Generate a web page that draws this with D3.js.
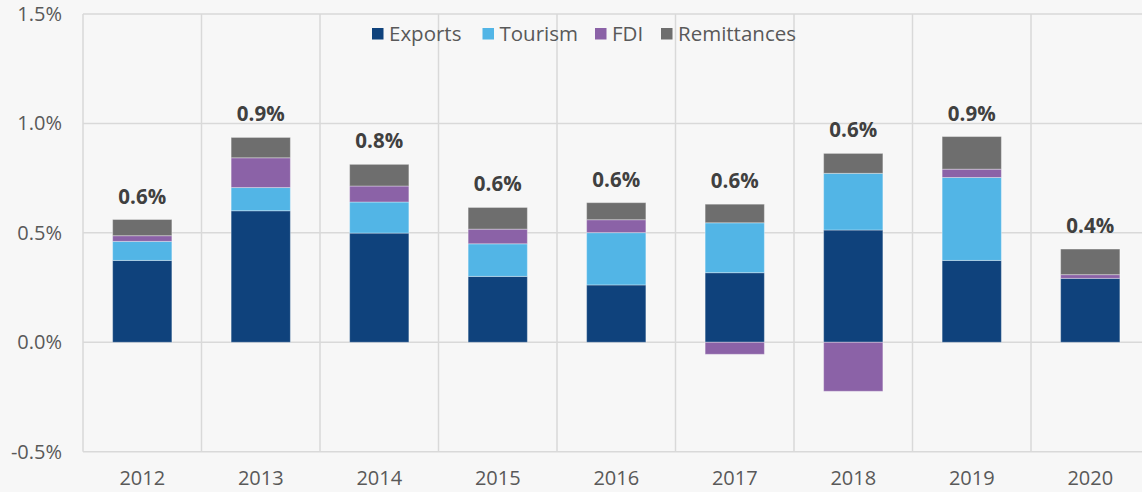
<!DOCTYPE html>
<html>
<head>
<meta charset="utf-8">
<script src="https://cdn.jsdelivr.net/npm/d3@7"></script>
<style>
  html, body { margin: 0; padding: 0; background: #f7f7f7; }
  svg { display: block; font-family: "Open Sans", sans-serif; }
</style>
</head>
<body>
<div id="chart"></div>
<script>
// data (% of GDP)
var years = ["2012", "2013", "2014", "2015", "2016", "2017", "2018", "2019", "2020"];
var exports_ = [0.374, 0.601, 0.499, 0.301, 0.262, 0.318, 0.513, 0.374, 0.292];
var tourism = [0.087, 0.106, 0.142, 0.149, 0.239, 0.228, 0.259, 0.379, 0.000];
var fdi = [0.026, 0.136, 0.073, 0.067, 0.059, -0.055, -0.224, 0.038, 0.017];
var remittances = [0.074, 0.093, 0.099, 0.099, 0.078, 0.085, 0.091, 0.149, 0.117];
var series_names = ["Exports", "Tourism", "FDI", "Remittances"];
var y_ticks = [-0.5, 0, 0.5, 1.0, 1.5];

var colors = ["#0f427c", "#52b5e6", "#8b62a7", "#6e6e6e"];

var width = 1142,
    height = 492;

var svg = d3.select("#chart").append("svg")
    .attr("width", width)
    .attr("height", height);

var x = d3.scaleBand()
    .domain(years)
    .range([83, 1149.5])
    .paddingInner(0.5)
    .paddingOuter(0.25);

var y = d3.scaleLinear()
    .domain([-0.5, 1.5])
    .range([451.7, 14]);

var step = x.step();

// grid
var grid = svg.append("g");
grid.selectAll(".hgrid")
    .data(y_ticks)
    .enter().append("line")
    .attr("x1", 83)
    .attr("x2", width)
    .attr("y1", function(d) { return y(d); })
    .attr("y2", function(d) { return y(d); })
    .attr("stroke", "#d9d9d9")
    .attr("stroke-width", 1.5);

var bounds = [83].concat(years.map(function(d) { return x(d) - x.bandwidth() / 2 + step; }));
grid.selectAll(".vgrid")
    .data(bounds)
    .enter().append("line")
    .attr("x1", function(d) { return d; })
    .attr("x2", function(d) { return d; })
    .attr("y1", y(1.5))
    .attr("y2", y(-0.5))
    .attr("stroke", "#d9d9d9")
    .attr("stroke-width", 1.5);

// y axis labels
svg.append("g").selectAll("text")
    .data(y_ticks)
    .enter().append("text")
    .attr("x", 62)
    .attr("y", function(d) { return y(d) + 7; })
    .attr("text-anchor", "end")
    .style("font-size", "20px")
    .style("fill", "#595959")
    .text(function(d) { return d.toFixed(1) + "%"; });

// x axis labels
svg.append("g").selectAll("text")
    .data(years)
    .enter().append("text")
    .attr("x", function(d) { return x(d) + x.bandwidth() / 2; })
    .attr("y", 485)
    .attr("text-anchor", "middle")
    .style("font-size", "20px")
    .style("fill", "#595959")
    .text(function(d) { return d; });

// stacked bars (positive up, negative down)
var all_series = [exports_, tourism, fdi, remittances];
var pos_top = years.map(function() { return 0; });
var neg_bot = years.map(function() { return 0; });

var bars = svg.append("g");
for (var s = 0; s < all_series.length; s++) {
    for (var i = 0; i < years.length; i++) {
        var v = all_series[s][i];
        if (v === 0) continue;
        var y0, y1;
        if (v > 0) { y0 = pos_top[i]; y1 = y0 + v; pos_top[i] = y1; }
        else { y0 = neg_bot[i]; y1 = y0 + v; neg_bot[i] = y1; }
        bars.append("rect")
            .attr("x", x(years[i]))
            .attr("width", x.bandwidth())
            .attr("y", y(Math.max(y0, y1)))
            .attr("height", Math.abs(y(y0) - y(y1)))
            .attr("fill", colors[s])
            .attr("stroke", "#ffffff")
            .attr("stroke-opacity", 0.35)
            .attr("stroke-width", 1);
    }
}

// total labels
svg.append("g").selectAll("text")
    .data(years)
    .enter().append("text")
    .attr("x", function(d) { return x(d) + x.bandwidth() / 2; })
    .attr("y", function(d, i) { return y(pos_top[i]) - 16; })
    .attr("text-anchor", "middle")
    .style("font-size", "20.5px")
    .style("font-weight", "bold")
    .style("fill", "#404040")
    .text(function(d, i) {
        var total = exports_[i] + tourism[i] + fdi[i] + remittances[i];
        return total.toFixed(1) + "%";
    });

// legend
var legend_x = [372, 482.5, 595, 661];
var legend = svg.append("g");
for (var k = 0; k < series_names.length; k++) {
    legend.append("rect")
        .attr("x", legend_x[k])
        .attr("y", 28)
        .attr("width", 11.5)
        .attr("height", 11.5)
        .attr("fill", colors[k]);
    legend.append("text")
        .attr("x", legend_x[k] + 17)
        .attr("y", 41)
        .style("font-size", "20.5px")
        .style("fill", "#595959")
        .text(series_names[k]);
}
</script>
</body>
</html>
